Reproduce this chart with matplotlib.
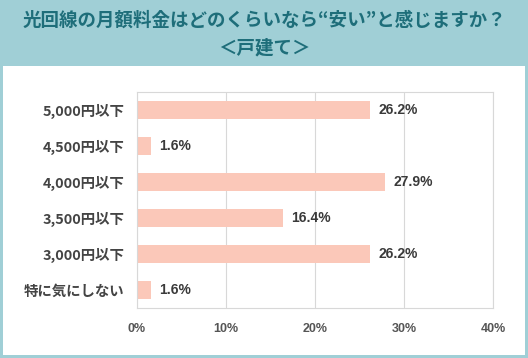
import matplotlib.pyplot as plt

plt.rcParams['font.family'] = ['Noto Sans CJK JP', 'DejaVu Sans']

# Data
categories = ['5,000円以下', '4,500円以下', '4,000円以下', '3,500円以下', '3,000円以下', '特に気にしない']
values = [26.2, 1.6, 27.9, 16.4, 26.2, 1.6]
xticks = [0, 10, 20, 30, 40]

fig = plt.figure(figsize=(5.28, 3.58), dpi=100)
fig.patch.set_facecolor('#a0cfd6')

# white panel behind the chart
bg = fig.add_axes([3 / 528, 1 - 355 / 358, 522 / 528, 289 / 358])
bg.set_facecolor('white')
bg.set_xticks([]); bg.set_yticks([])
for s in bg.spines.values():
    s.set_visible(False)

fig.text(0.5, 1 - 20 / 358, '光回線の月額料金はどのくらいなら“安い”と感じますか？',
         ha='center', va='center', fontsize=13.3, fontweight='bold', color='#1e6e7a')
fig.text(0.5, 1 - 48 / 358, '＜戸建て＞', ha='center', va='center',
         fontsize=13.3, fontweight='bold', color='#1e6e7a')

ax = fig.add_axes([137 / 528, 1 - 308 / 358, 356 / 528, 216 / 358])
ax.set_facecolor('white')
y = list(range(len(categories)))
ax.barh(y, values, height=0.5, color='#fbc8b9', zorder=2)
for yi, v in zip(y, values):
    ax.text(v + 0.9, yi, f'{v}%', va='center', ha='left', fontsize=10,
            fontweight='bold', color='#3a3a3a', family=['Liberation Sans', 'DejaVu Sans'])

ax.set_xlim(0, 40)
ax.set_ylim(len(categories) - 0.5, -0.5)
ax.set_xticks(xticks)
ax.set_xticklabels([f'{t}%' for t in xticks], fontsize=9, fontweight='bold',
                   color='#555555', family=['Liberation Sans', 'DejaVu Sans'])
ax.set_yticks(y)
ax.set_yticklabels(categories, fontsize=10.4, fontweight='bold', color='#444444')
ax.tick_params(axis='both', length=0)
ax.tick_params(axis='x', pad=11)
ax.tick_params(axis='y', pad=9)
ax.grid(axis='x', color='#d8d8d8', linewidth=0.8, zorder=0)
for s in ax.spines.values():
    s.set_color('#d8d8d8')
    s.set_linewidth(0.8)

fig.savefig('out.png', dpi=100)
